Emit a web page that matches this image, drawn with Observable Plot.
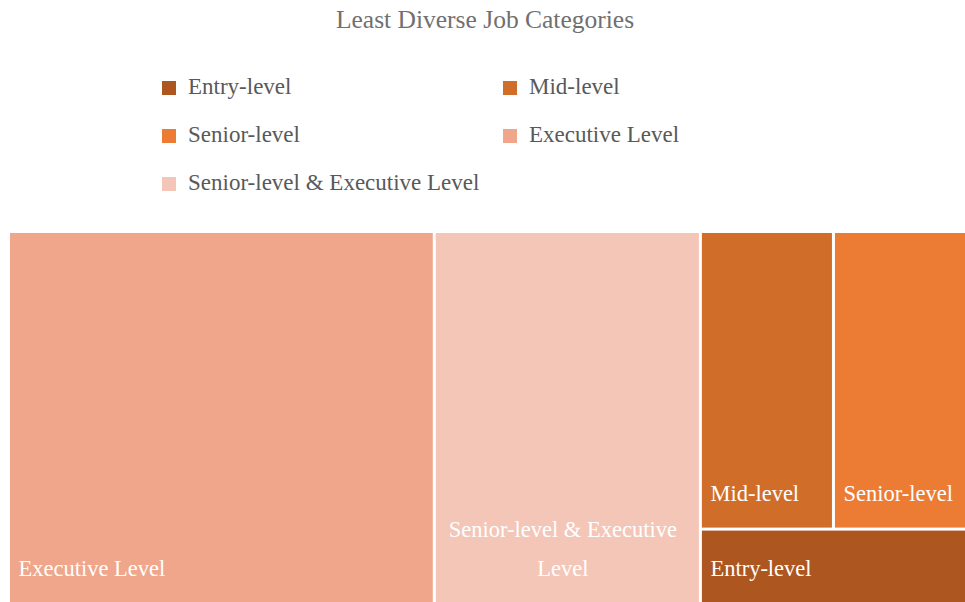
<!DOCTYPE html>
<html>
<head>
<meta charset="utf-8">
<script src="https://cdn.jsdelivr.net/npm/d3@7"></script>
<script src="https://cdn.jsdelivr.net/npm/@observablehq/plot@0.6"></script>
<style>
  html, body { margin: 0; padding: 0; background: #fff; }
  body { width: 965px; height: 602px; position: relative; overflow: hidden; font-family: "Liberation Serif", "DejaVu Serif", serif; }
  #title { position: absolute; top: 5px; left: 0; width: 970px; text-align: center; font-size: 25.5px; color: #707070; }
  .leg { position: absolute; font-size: 23px; color: #595959; white-space: nowrap; line-height: 24px; }
  .leg span.sw { position: absolute; left: 0; top: 5px; width: 14px; height: 14px; }
  .leg span.lb { position: absolute; left: 26px; top: -1px; }
  #chart { position: absolute; left: 0; top: 231px; }
</style>
</head>
<body>
<div id="title">Least Diverse Job Categories</div>
<div id="legend"></div>
<div id="chart"></div>
<script>
// Data
const categories = ["Entry-level", "Mid-level", "Senior-level", "Executive Level", "Senior-level & Executive Level"];
const values = [1, 2, 2, 8, 5];
const colors = ["#AD5620", "#D06D29", "#EC7C33", "#EFA68A", "#F4C6B8"];
const cellLabels = ["Entry-level", "Mid-level", "Senior-level", "Executive Level", "Senior-level & Executive\nLevel"];

// Legend (HTML above the plot)
const legendPos = [[162, 76], [503, 76], [162, 124], [503, 124], [162, 172]];
const legend = document.getElementById("legend");
categories.forEach((c, i) => {
  const d = document.createElement("div");
  d.className = "leg";
  d.style.left = legendPos[i][0] + "px";
  d.style.top = legendPos[i][1] + "px";
  d.innerHTML = `<span class="sw" style="background:${colors[i]}"></span><span class="lb">${c}</span>`;
  legend.appendChild(d);
});

// Hierarchy matching the layout: Exec | Sr&Exec | [[Mid | Senior] / Entry]
const leaf = i => ({name: categories[i], value: values[i], color: colors[i], label: cellLabels[i], idx: i});
const tree = {
  name: "root",
  children: [
    leaf(3),
    leaf(4),
    {name: "grpA", children: [
      {name: "grpB", children: [leaf(1), leaf(2)]},
      leaf(0)
    ]}
  ]
};
const W = 955, H = 369;
const root = d3.hierarchy(tree).sum(d => d.children ? 0 : d.value);
d3.treemap().tile(d3.treemapSliceDice).size([W, H]).paddingInner(3).round(false)(root);
const cells = root.leaves().map(n => ({
  name: n.data.name, color: n.data.color, label: n.data.label, idx: n.data.idx,
  x0: n.x0, x1: n.x1, y0: n.y0, y1: n.y1
}));

const labelsLeft = cells.filter(d => d.idx !== 4);
const labelsCenter = cells.filter(d => d.idx === 4);

const chart = Plot.plot({
  width: 965,
  height: 371,
  marginLeft: 10,
  marginRight: 0,
  marginTop: 2,
  marginBottom: 0,
  x: {domain: [0, W], axis: null},
  y: {domain: [0, H], reverse: true, axis: null},
  style: {fontFamily: "'Liberation Serif', 'DejaVu Serif', serif", background: "#fff"},
  marks: [
    Plot.rect(cells, {x1: "x0", x2: "x1", y1: "y0", y2: "y1", fill: d => d.color}),
    Plot.text(labelsLeft, {
      x: "x0", y: "y1", text: "label", dx: 8, dy: -27,
      textAnchor: "start", lineAnchor: "bottom",
      fill: "white", fontSize: 22.5
    }),
    Plot.text(labelsCenter, {
      x: d => (d.x0 + d.x1) / 2, y: "y1", text: "label", dx: -5, dy: -27,
      textAnchor: "middle", lineAnchor: "bottom", lineHeight: 1.73,
      fill: "white", fontSize: 22.5
    })
  ]
});
document.getElementById("chart").appendChild(chart);
</script>
</body>
</html>
